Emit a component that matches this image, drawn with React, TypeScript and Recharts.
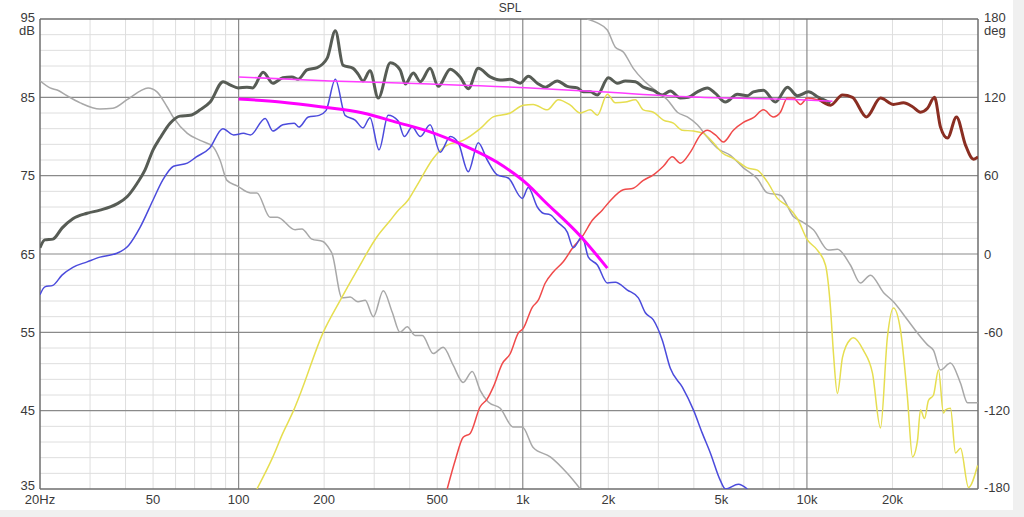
import React from "react";
import { LineChart, Line, XAxis, YAxis, ReferenceLine } from "recharts";

type Pt = [number, number];

// axis ticks
const freqTicks = [20, 50, 100, 200, 500, 1000, 2000, 5000, 10000, 20000];
const freqLabels = ["20Hz", "50", "100", "200", "500", "1k", "2k", "5k", "10k", "20k"];
const dbTicks = [35, 45, 55, 65, 75, 85, 95];
const degTicks = [-180, -120, -60, 0, 60, 120, 180];

// grid
const freqMinor = [30, 40, 50, 60, 70, 80, 90, 200, 300, 400, 500, 600, 700, 800, 900,
  2000, 3000, 4000, 5000, 6000, 7000, 8000, 9000, 20000, 30000];
const freqMajor = [100, 1000, 10000];
const crossover = 1600;

// SPL, dB (left axis)
const totalSpl: Pt[] = [
  [20, 65.8], [20.8, 66.8], [22.2, 66.9], [23.9, 68.3], [26.1, 69.5], [29.3, 70.2], [32.5, 70.6],
  [37.3, 71.4], [40.5, 72.3], [43.9, 74], [46.8, 75.7], [50, 78.3], [52.9, 79.8], [57.4, 81.7],
  [62.2, 82.6], [67.5, 82.7], [73.2, 83.4], [79.4, 84.4], [88.2, 87], [93.3, 86.6], [99.6, 86.2],
  [107, 86.3], [112, 86.2], [122, 88.2], [132, 86.8], [143, 87.5], [154, 87.6], [162, 87.3],
  [174, 88.5], [189, 88.8], [205, 90], [219, 93.5], [233, 89.1], [253, 88.7], [263, 88],
  [274, 87.1], [290, 88.4], [310, 84.9], [342, 89.4], [370, 88.5], [386, 86.7], [412, 88.1],
  [436, 87], [472, 88.7], [504, 86.4], [556, 88.6], [602, 87.6], [643, 86.1], [697, 88.7],
  [768, 87.6], [833, 87.2], [904, 87.3], [980, 86.8], [1046, 87.7], [1125, 86.8], [1200, 86.3],
  [1323, 87.1], [1434, 86.4], [1556, 86.2], [1634, 85.7], [1728, 85.7], [1830, 85.3], [2000, 87.5],
  [2152, 86.8], [2296, 87.1], [2490, 87], [2656, 86.3], [2881, 85.9], [3098, 85.3], [3306, 85.8],
  [3585, 84.9], [3826, 85], [4116, 85.7], [4463, 86.2], [4763, 85.5], [5165, 84.4], [5692, 85.4],
  [6172, 85.2], [6481, 85.7], [7030, 85.9], [7746, 84.4], [8539, 86.3], [9262, 85.2],
  [10120, 85.7], [10980, 85], [12100, 84.3],
];

const totalSplTop: Pt[] = [
  [10980, 84.8], [12100, 84], [13340, 85.3], [14460, 85], [16200, 82.5], [18150, 84.9],
  [20160, 84.1], [21870, 84.3], [23530, 83.8], [25100, 83.1], [26570, 83.6], [28120, 85],
  [29520, 81.2], [31240, 79.8], [33600, 82.5], [36140, 78.9], [38570, 77.1], [40000, 77.4],
];

const wooferSpl: Pt[] = [
  [20, 59.8], [20.8, 60.8], [22.2, 61], [23.9, 62.3], [26.1, 63.3], [29.3, 64], [32.5, 64.6],
  [37.3, 65.1], [41, 66.1], [45, 68.4], [50, 71.9], [54, 74.4], [59, 76.2], [66, 76.6], [71, 77.4],
  [79, 78.5], [88, 81], [96, 80.2], [104, 80.4], [110, 80.2], [124, 82.3], [132, 80.7], [143, 81.5],
  [157, 81.7], [163, 81.2], [176, 82.5], [192, 82.7], [203, 83.3], [219, 87.3], [237, 82.7],
  [257, 82.1], [274, 81.1], [290, 82.4], [312, 78.3], [336, 82.7], [364, 82], [383, 80], [408, 81.2],
  [436, 80], [472, 81.5], [512, 78], [556, 80], [593, 79.2], [643, 75.5], [697, 79.2], [750, 77],
  [813, 75.1], [889, 74.7], [996, 72.1], [1046, 73.5], [1125, 71], [1180, 70.2], [1250, 70],
  [1323, 69.1], [1434, 67.8], [1506, 65.8], [1618, 67.2], [1701, 64.6], [1830, 63.6], [1984, 61.3],
  [2117, 61.4], [2334, 60.4], [2551, 59.4], [2700, 57.5], [2881, 56.6], [3098, 54], [3306, 50.4],
  [3644, 48], [3986, 45.1], [4286, 42.1], [4572, 39.6], [4956, 36.1], [5165, 35], [5740, 35.6],
  [6172, 35],
];

const tweeterSpl: Pt[] = [
  [542, 35], [579, 38.7], [617, 41.6], [653, 42.1], [708, 45.5], [750, 46.5], [787, 48], [847, 51],
  [904, 52.3], [964, 54.9], [1004, 55.5], [1080, 58.2], [1134, 59.1], [1200, 61.3], [1280, 62.7],
  [1388, 64], [1506, 65.9], [1618, 67.2], [1757, 69.3], [1904, 70.6], [2032, 71.8], [2258, 73.2],
  [2449, 73.4], [2656, 74.4], [2881, 75.1], [3124, 76.2], [3361, 77.4], [3585, 76.6], [3889, 78],
  [4218, 80.2], [4463, 80.8], [4763, 80.2], [5082, 79.3], [5510, 80.8], [5977, 81.8], [6481, 82.4],
  [7030, 83.4], [7620, 82.5], [8066, 83.1], [8539, 84.9], [8960, 84.9], [9490, 84.1], [10040, 84.9],
  [10880, 84.7], [12100, 84],
];

const targetLow: Pt[] = [
  [100, 84.8], [140, 84.4], [194, 83.8], [274, 83], [361, 81.8], [472, 80.6], [617, 78.9],
  [813, 76.7], [1046, 73.8], [1180, 71.9], [1594, 67.3], [1984, 63.2],
];

const targetFlat: Pt[] = [
  [100, 87.6], [210, 87.1], [472, 86.7], [1063, 86.2], [1874, 85.7], [4218, 85], [9490, 84.7],
  [12300, 84.5],
];

// phase, deg (right axis)
const phaseTotal: Pt[] = [
  [20, 132.6], [21.7, 127.2], [23.1, 125.4], [24.9, 121.2], [27.7, 115.8], [32.5, 111], [36.1, 111.6],
  [40.5, 118.2], [45, 124.8], [48, 127.2], [51.6, 124.2], [56, 112.8], [59, 104.4], [66, 92.4],
  [73.2, 87], [81.3, 82.2], [86, 72], [91, 56.4], [98.8, 52.2], [110, 46.8], [116, 46.8], [129, 28.2],
  [137, 28.2], [158, 18.6], [167, 19.2], [181, 11.4], [198, 9.6], [210, 3], [213, 0.6], [231, -33.6],
  [247, -33], [263, -36.6], [279, -35.4], [298, -48], [323, -28.2], [347, -44.4], [370, -60],
  [392, -55.8], [418, -62.4], [443, -62.4], [484, -76.2], [525, -71.4], [569, -85.2], [617, -98.4],
  [664, -90], [708, -104.4], [756, -113.4], [833, -118.2], [926, -132.6], [996, -132.6],
  [1088, -148.2], [1250, -155.4], [1434, -168], [1594, -180],
];

const phaseTotalWrapped: Pt[] = [
  [1686, 180], [1830, 177], [1984, 171.6], [2117, 158.4], [2258, 154.8], [2449, 142.2], [2656, 133.2],
  [2976, 124.2], [3226, 118.2], [3500, 108.6], [3794, 105], [4116, 99], [4463, 89.4], [4840, 81],
  [5378, 75.6], [5977, 66], [6692, 57.6], [7258, 46.8], [8066, 45], [8960, 28.8], [9640, 24.6],
  [10540, 18.6], [11900, 3], [12800, 3.6], [14220, -8.4], [15430, -22.2], [16730, -16.2],
  [18590, -29.4], [20160, -36.6], [22580, -50.4], [24500, -60.6], [26570, -69.6], [27890, -73.8],
  [29520, -88.8], [32000, -83.4], [34720, -99], [36740, -114], [40000, -114],
];

const phaseTweeter: Pt[] = [
  [116, -180], [132, -155.4], [143, -137.4], [156, -120], [165, -106.8], [198, -60.6], [228, -35.4],
  [261, -12.6], [307, 13.2], [342, 25.8], [361, 32.4], [395, 41.4], [425, 52.8], [484, 73.2],
  [542, 83.4], [617, 87], [708, 96], [787, 105], [904, 108], [1004, 114], [1088, 114.6],
  [1220, 110.4], [1334, 118.2], [1470, 114], [1594, 108], [1728, 110.4], [1830, 106.2],
  [1984, 122.4], [2117, 115.8], [2296, 116.4], [2490, 118.2], [2656, 110.4], [2881, 108.6],
  [3124, 102.6], [3388, 100.2], [3644, 94.8], [3986, 94.2], [4320, 92.4], [4686, 85.2], [5040, 77.4],
  [5510, 73.2], [6172, 66], [6692, 64.2], [7258, 55.2], [7872, 42.6], [8539, 36.6], [9262, 27],
  [10040, 10.8], [10880, 3], [11620, -8.4], [12100, -40.8], [12400, -76.2], [12800, -106.8],
  [13340, -79.2], [14220, -65.4], [14580, -64.2], [15810, -73.8], [17010, -91.2], [18150, -133.2],
  [19200, -63.6], [20160, -41.4], [21340, -58.2], [22580, -109.8], [23530, -155.4], [24500, -142.8],
  [25100, -119.4], [25930, -126], [26770, -112.2], [27890, -108], [29040, -88.8], [30240, -121.8],
  [30740, -119.4], [32000, -118.2], [33340, -152.4], [34720, -148.8], [37040, -178.8], [39860, -162],
];

const rows = (pts: Pt[]) => pts.map(([f, v]) => ({ f, v }));

const FONT = '"Liberation Sans", Arial, sans-serif';
const TEXT = "#3a3a3a";
const MINOR = "#dedede";
const MAJOR = "#8a8a8a";

const dbMinor: number[] = [];
for (let v = 37; v < 95; v += 2) if ((v - 35) % 10 !== 0) dbMinor.push(v);
const dbMajor = [45, 55, 65, 75, 85];

function DbTick(props: any) {
  const { x, y, payload } = props;
  const v = payload.value;
  const shift = v === 35 ? -4 : v === 95 ? -2 : 0;
  return (
    <g fontFamily={FONT} fontSize={13} fill={TEXT}>
      <text x={x} y={y + shift} textAnchor="end" dominantBaseline="central">{v}</text>
      {v === 95 && (
        <text x={x} y={y + 11} textAnchor="end" dominantBaseline="central">dB</text>
      )}
    </g>
  );
}

function DegTick(props: any) {
  const { x, y, payload } = props;
  const v = payload.value;
  const shift = v === -180 ? -2 : v === 180 ? -2 : 0;
  return (
    <g fontFamily={FONT} fontSize={13} fill={TEXT}>
      <text x={x} y={y + shift} textAnchor="start" dominantBaseline="central">{v}</text>
      {v === 180 && (
        <text x={x} y={y + 11} textAnchor="start" dominantBaseline="central">deg</text>
      )}
    </g>
  );
}

function FreqTick(props: any) {
  const { x, y, payload } = props;
  const i = freqTicks.indexOf(payload.value);
  return (
    <text x={x} y={y + 10} textAnchor="middle" dominantBaseline="central"
      fontFamily={FONT} fontSize={13} fill={TEXT}>
      {i >= 0 ? freqLabels[i] : payload.value}
    </text>
  );
}

const lineProps = {
  dataKey: "v",
  dot: false,
  activeDot: false,
  isAnimationActive: false,
  type: "monotone" as const,
};

export default function App() {
  return (
    <div style={{ position: "fixed", left: 0, top: 0, width: 1024, height: 517, background: "#f0f0f0" }}>
      <div style={{ position: "absolute", left: 0, top: 0, width: 1013, height: 510, background: "#fff" }}>
        <div style={{
          position: "absolute", left: 0, width: 1020, top: 1, textAlign: "center",
          fontFamily: FONT, fontSize: 12, color: TEXT,
        }}>SPL</div>
        <LineChart width={1013} height={510} margin={{ top: 19, right: 0, bottom: 0, left: 0 }}>
          <XAxis
            dataKey="f" type="number" scale="log" domain={[20, 40000]} allowDataOverflow
            ticks={freqTicks} interval={0} height={21} tickSize={0} tickMargin={0}
            axisLine={false} tickLine={false} tick={<FreqTick />}
          />
          <YAxis
            yAxisId="db" orientation="left" type="number" domain={[35, 95]} allowDataOverflow
            ticks={dbTicks} interval={0} width={40} tickSize={0} tickMargin={5}
            axisLine={false} tickLine={false} tick={<DbTick />}
          />
          <YAxis
            yAxisId="deg" orientation="right" type="number" domain={[-180, 180]} allowDataOverflow
            ticks={degTicks} interval={0} width={35} tickSize={0} tickMargin={6}
            axisLine={false} tickLine={false} tick={<DegTick />}
          />

          {dbMinor.map((v) => (
            <ReferenceLine key={"hm" + v} yAxisId="db" y={v} stroke={MINOR} strokeWidth={1} />
          ))}
          {freqMinor.map((f) => (
            <ReferenceLine key={"vm" + f} yAxisId="db" x={f} stroke={MINOR} strokeWidth={1} />
          ))}
          {dbMajor.map((v) => (
            <ReferenceLine key={"hM" + v} yAxisId="db" y={v} stroke={MAJOR} strokeWidth={1.2} />
          ))}
          {freqMajor.map((f) => (
            <ReferenceLine key={"vM" + f} yAxisId="db" x={f} stroke={MAJOR} strokeWidth={1.2} />
          ))}
          <ReferenceLine yAxisId="db" x={crossover} stroke={MAJOR} strokeWidth={1.2} />
          <ReferenceLine yAxisId="db" y={35} stroke="#6e6e6e" strokeWidth={1.5} />
          <ReferenceLine yAxisId="db" y={95} stroke="#6e6e6e" strokeWidth={1.5} />
          <ReferenceLine yAxisId="db" x={20} stroke="#6e6e6e" strokeWidth={1.5} />
          <ReferenceLine yAxisId="db" x={40000} stroke="#6e6e6e" strokeWidth={1.5} />

          <Line {...lineProps} data={rows(phaseTotal)} yAxisId="deg" stroke="#a8a8a8" strokeWidth={1.5} />
          <Line {...lineProps} data={rows(phaseTotalWrapped)} yAxisId="deg" stroke="#a8a8a8" strokeWidth={1.5} />
          <Line {...lineProps} data={rows(phaseTweeter)} yAxisId="deg" stroke="#e6de50" strokeWidth={1.5} />
          <Line {...lineProps} data={rows(tweeterSpl)} yAxisId="db" stroke="#f04a4a" strokeWidth={1.5} />
          <Line {...lineProps} data={rows(wooferSpl)} yAxisId="db" stroke="#4b4bdc" strokeWidth={1.5} />
          <Line {...lineProps} data={rows(totalSpl)} yAxisId="db" stroke="#575c55" strokeWidth={3} />
          <Line {...lineProps} data={rows(totalSplTop)} yAxisId="db" stroke="#8a2e22" strokeWidth={3} />
          <Line {...lineProps} data={rows(targetFlat)} yAxisId="db" stroke="#ff3cff" strokeWidth={1.5} />
          <Line {...lineProps} data={rows(targetLow)} yAxisId="db" stroke="#ff00ff" strokeWidth={3} />
        </LineChart>
      </div>
    </div>
  );
}
